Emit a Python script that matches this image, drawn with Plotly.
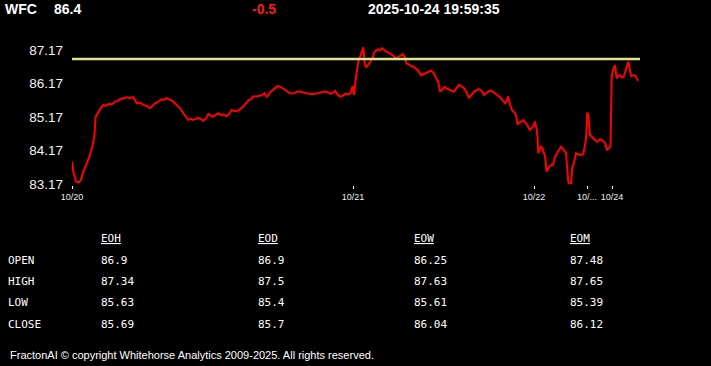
import plotly.graph_objects as go

# ---------------- data ----------------
symbol = "WFC"
last_price = "86.4"
change = "-0.5"
timestamp = "2025-10-24 19:59:35"
prev_close = 86.9

# sample index (time-ordered, irregular sessions) and price
sample_idx = [
    0.3, 1.3, 4, 7, 9, 11.3, 14, 16.3, 18, 20.3, 22.3, 23.7, 26.3, 29, 31.3, 34, 36.3, 40, 43, 46,
    48, 51, 54.7, 58, 61.3, 64.7, 68, 71.3, 75, 78, 80, 83, 86, 89.7, 92, 94.7, 97, 99.7, 103, 106.3,
    109, 111.3, 114, 116.3, 119, 121, 123, 126, 128, 131.3, 134, 136.3, 139, 141.3, 144, 146.3, 149, 151.3, 154, 156.3,
    159.7, 163, 166.3, 169, 171.3, 174, 176.3, 179, 181.3, 185, 188, 190, 192.3, 194.7, 196.3, 198, 201, 203, 206, 209.7,
    212, 214.7, 217, 219, 222, 224.7, 228, 231.3, 234, 238, 242, 246.3, 250, 253, 256.3, 259, 261.3, 263, 265.3, 268,
    270.7, 273, 276.3, 278.5, 280.7, 282, 284, 286.3, 288.7, 291.3, 292.7, 294, 297.3, 300.7, 302.5, 304, 306, 308, 310, 312,
    314, 316.3, 319, 321.3, 324, 326.3, 329, 331, 333, 334.5, 336.3, 339, 341.3, 344, 346.3, 349, 351.3, 354, 356.3, 359,
    361.3, 363, 364.7, 366.5, 368, 370.7, 372.5, 374.7, 377, 379.7, 382, 384.7, 387, 389.7, 392, 394.7, 397, 400, 402.3, 404.7,
    407, 409.7, 412, 414.7, 418, 421.3, 424, 426.3, 429, 431.3, 433, 434.7, 436, 438, 440, 442.3, 444, 445.7, 446.3, 449,
    451.3, 454.7, 456, 458, 461.3, 463, 464.7, 465.5, 466.3, 468, 469, 470.3, 473, 474.5, 475.7, 477.5, 479.7, 481, 483, 486.3,
    489, 491.3, 494, 496.3, 497.3, 499, 500.3, 501.3, 504, 507, 509, 511.3, 514, 515.3, 516.3, 518, 519.7, 523, 525, 528,
    530, 533, 535, 537, 538.5, 539.7, 541.3, 543, 544.7, 546.3, 548, 549.7, 551.5, 553, 554.7, 556.3, 559, 561.3, 563, 565.7,
    566.3,
]
price = [
    83.84, 83.54, 83.24, 83.22, 83.30, 83.54, 83.72, 83.89, 84.05, 84.28, 84.58, 85.18, 85.33, 85.45, 85.53, 85.50, 85.56, 85.55, 85.63, 85.65,
    85.70, 85.72, 85.76, 85.74, 85.76, 85.58, 85.60, 85.53, 85.50, 85.43, 85.50, 85.58, 85.62, 85.70, 85.68, 85.73, 85.70, 85.66, 85.58, 85.48,
    85.40, 85.28, 85.15, 85.08, 85.12, 85.08, 85.10, 85.14, 85.13, 85.06, 85.12, 85.26, 85.20, 85.18, 85.24, 85.28, 85.22, 85.25, 85.20, 85.23,
    85.38, 85.34, 85.36, 85.42, 85.48, 85.58, 85.66, 85.70, 85.78, 85.79, 85.80, 85.82, 85.88, 85.78, 85.82, 85.90, 85.98, 86.03, 86.10, 86.05,
    86.00, 85.93, 85.90, 85.87, 85.88, 85.92, 85.93, 85.90, 85.88, 85.86, 85.86, 85.88, 85.90, 85.93, 85.90, 85.86, 85.90, 85.95, 85.85, 85.78,
    85.80, 85.86, 85.85, 85.88, 86.10, 85.83, 86.37, 86.82, 87.02, 87.25, 86.77, 86.65, 86.77, 86.95, 87.12, 87.15, 87.19, 87.16, 87.22, 87.18,
    87.12, 87.10, 87.05, 87.00, 86.92, 86.96, 87.00, 87.05, 86.95, 86.77, 86.75, 86.69, 86.68, 86.62, 86.55, 86.42, 86.45, 86.49, 86.50, 86.55,
    86.50, 86.42, 86.30, 86.18, 85.93, 86.00, 86.07, 86.02, 85.98, 85.95, 85.93, 86.05, 86.13, 86.08, 86.03, 85.90, 85.73, 85.85, 85.93, 85.97,
    86.00, 85.95, 85.83, 85.90, 85.96, 85.92, 85.86, 85.80, 85.73, 85.65, 85.58, 85.65, 85.78, 85.55, 85.38, 85.30, 85.23, 84.93, 85.00, 85.03,
    85.08, 84.95, 84.88, 84.78, 84.90, 85.03, 84.80, 84.58, 84.09, 84.20, 84.30, 84.24, 84.00, 83.54, 83.60, 83.69, 83.75, 83.74, 83.98, 84.15,
    84.28, 84.20, 84.10, 83.24, 83.19, 83.19, 83.69, 83.72, 84.09, 84.05, 84.04, 84.06, 84.50, 85.30, 85.20, 84.63, 84.58, 84.50, 84.43, 84.50,
    84.48, 84.40, 84.18, 84.25, 84.30, 86.37, 86.60, 86.72, 86.32, 86.40, 86.42, 86.35, 86.36, 86.50, 86.67, 86.82, 86.39, 86.40, 86.42, 86.27,
    86.27,
]

day_tick_idx = [0, 281, 462, 515, 540]
day_tick_text = ["10/20", "10/21", "10/22", "10/...", "10/24"]
y_tick_vals = [83.17, 84.17, 85.17, 86.17, 87.17]

table_cols = ["EOH", "EOD", "EOW", "EOM"]
table_rows = ["OPEN", "HIGH", "LOW", "CLOSE"]
eoh = ["86.9", "87.34", "85.63", "85.69"]
eod = ["86.9", "87.5", "85.4", "85.7"]
eow = ["86.25", "87.63", "85.61", "86.04"]
eom = ["87.48", "87.65", "85.39", "86.12"]
table_values = [eoh, eod, eow, eom]

footer = "FractonAI © copyright Whitehorse Analytics 2009-2025. All rights reserved."

# ---------------- layout geometry ----------------
W, H = 711, 366
L, R, T, B = 72, 71, 40, 181
PW = W - L - R
PH = H - T - B


def px(xp):
    return (xp - L) / PW


def py(yp):
    return (H - B - yp) / PH


fig = go.Figure()
fig.add_trace(go.Scatter(
    x=sample_idx, y=price, mode="lines",
    line=dict(color="#ff0000", width=2), hoverinfo="skip", showlegend=False,
))

fig.add_shape(type="line", xref="paper", yref="y", x0=0, x1=1, y0=prev_close, y1=prev_close,
              line=dict(color="#dde38f", width=2.5))

anns = []
hdr_font = dict(family="Liberation Sans, Arial", size=14, color="white")
anns.append(dict(text="<b>" + symbol + "</b>", x=px(3), y=py(9), font=hdr_font))
anns.append(dict(text="<b>" + last_price + "</b>", x=px(52), y=py(9), font=hdr_font))
anns.append(dict(text="<b>" + change + "</b>", x=px(250), y=py(9),
                 font=dict(family="Liberation Sans, Arial", size=14, color="#ff1a1a")))
anns.append(dict(text="<b>" + timestamp + "</b>", x=px(366), y=py(9), font=hdr_font))

mono = dict(family="DejaVu Sans Mono, monospace", size=11, color="white")
col_x = [99, 256, 412, 568]
row_y = [260, 281, 302, 324]
for cx, name in zip(col_x, table_cols):
    anns.append(dict(text=name, x=px(cx), y=py(238),
                     font=dict(family="DejaVu Sans Mono, monospace", size=11, color="white",
                               lineposition="under")))
for ry, name in zip(row_y, table_rows):
    anns.append(dict(text=name, x=px(6), y=py(ry), font=mono))
for cx, vals in zip(col_x, table_values):
    for ry, v in zip(row_y, vals):
        anns.append(dict(text=v, x=px(cx), y=py(ry), font=mono))

anns.append(dict(text=footer, x=px(8), y=py(355),
                 font=dict(family="Liberation Sans, Arial", size=11, color="white")))

for a in anns:
    a.update(xref="paper", yref="paper", xanchor="left", yanchor="middle", showarrow=False)

fig.update_layout(
    width=W, height=H, autosize=False,
    margin=dict(l=L, r=R, t=T, b=B, pad=0),
    paper_bgcolor="black", plot_bgcolor="black",
    annotations=anns,
    showlegend=False,
    xaxis=dict(range=[0, PW], tickmode="array", tickvals=day_tick_idx, ticktext=day_tick_text,
               showgrid=False, zeroline=False, showline=False,
               ticks="outside", ticklen=3, tickwidth=1, tickcolor="white",
               tickfont=dict(family="Liberation Sans, Arial", size=9, color="#eeeeee"),
               fixedrange=True),
    yaxis=dict(range=[83.17 - 1 / 33.5, 87.17 + 10 / 33.5], tickmode="array", tickvals=y_tick_vals,
               ticktext=[f"{v:.2f}" for v in y_tick_vals],
               showgrid=False, zeroline=False, showline=False, ticks="",
               ticklabelstandoff=8,
               tickfont=dict(family="Liberation Sans, Arial", size=13.5, color="#f2f2f2"),
               fixedrange=True),
)

fig.write_html("out.html", config={"displayModeBar": False},
               post_script="document.body.style.margin='0px';document.body.style.background='black';")
